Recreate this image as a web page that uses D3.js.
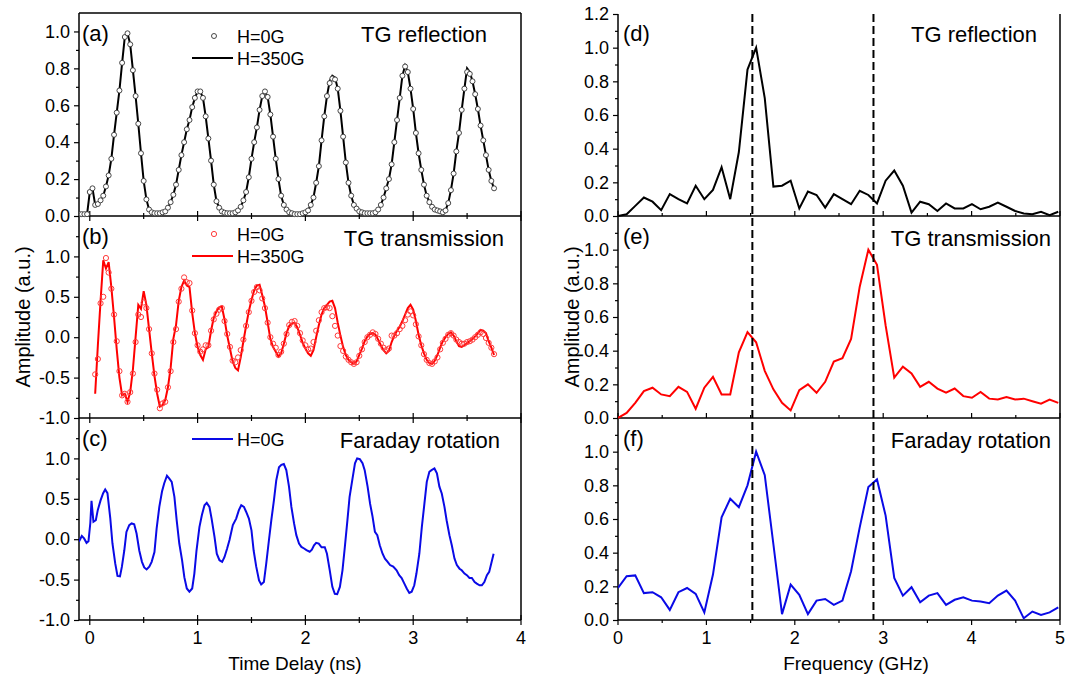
<!DOCTYPE html>
<html><head><meta charset="utf-8">
<script src="https://cdn.jsdelivr.net/npm/d3@7"></script>
<style>
body{margin:0;background:#fff}
svg{display:block}
text{font-family:"Liberation Sans",Arial,Helvetica,sans-serif;fill:#000}
</style>
</head><body>
<svg id="chart" width="1077" height="680"></svg>
<script>
// ---------------- DATA ----------------
const timeA_start = -0.1, timeA_step = 0.025;   // panel (a) sample grid
const timeB_start = 0.05, timeB_step = 0.025;   // panel (b) sample grid

// (a) TG reflection, H=0G (circles)
const reflection0G = [
 0.01,0.01,0.01,0.01,0.13,0.15,0.06,0.065,0.085,0.11,
 0.16,0.22,0.31,0.44,0.56,0.68,0.83,0.97,0.99,0.93,
 0.79,0.65,0.50,0.34,0.19,0.09,0.035,0.02,0.015,0.015,
 0.015,0.02,0.025,0.045,0.075,0.115,0.17,0.25,0.33,0.40,
 0.47,0.52,0.59,0.64,0.675,0.675,0.64,0.54,0.42,0.30,
 0.17,0.08,0.045,0.025,0.018,0.015,0.015,0.015,0.02,0.03,
 0.05,0.085,0.13,0.21,0.31,0.40,0.48,0.575,0.65,0.675,
 0.645,0.55,0.43,0.31,0.20,0.11,0.06,0.035,0.02,0.015,
 0.01,0.01,0.01,0.015,0.02,0.03,0.06,0.10,0.18,0.27,
 0.41,0.54,0.65,0.72,0.745,0.74,0.69,0.57,0.43,0.29,
 0.18,0.11,0.06,0.04,0.025,0.02,0.015,0.015,0.015,0.015,
 0.02,0.035,0.06,0.10,0.15,0.20,0.28,0.40,0.52,0.64,
 0.76,0.81,0.78,0.69,0.58,0.45,0.34,0.25,0.17,0.11,
 0.075,0.05,0.035,0.03,0.025,0.02,0.03,0.07,0.14,0.23,
 0.35,0.45,0.575,0.69,0.78,0.77,0.73,0.66,0.58,0.49,
 0.41,0.33,0.25,0.19,0.15];
// (a) TG reflection, H=350G (line)
const reflection350G = [
 0.01,0.01,0.01,0.01,0.13,0.15,0.06,0.065,0.085,0.11,
 0.16,0.22,0.31,0.44,0.56,0.68,0.83,0.97,0.99,0.93,
 0.79,0.65,0.50,0.34,0.19,0.09,0.035,0.02,0.015,0.015,
 0.015,0.02,0.025,0.045,0.075,0.115,0.17,0.25,0.33,0.40,
 0.47,0.52,0.59,0.64,0.675,0.675,0.64,0.54,0.42,0.30,
 0.17,0.08,0.045,0.025,0.018,0.015,0.015,0.015,0.02,0.03,
 0.05,0.085,0.13,0.21,0.31,0.40,0.48,0.575,0.65,0.675,
 0.645,0.55,0.43,0.31,0.20,0.11,0.06,0.035,0.02,0.015,
 0.01,0.01,0.01,0.015,0.02,0.03,0.06,0.10,0.18,0.27,
 0.41,0.54,0.65,0.73,0.76,0.75,0.69,0.57,0.43,0.29,
 0.18,0.11,0.06,0.04,0.025,0.02,0.015,0.015,0.015,0.015,
 0.02,0.035,0.06,0.10,0.15,0.20,0.28,0.40,0.52,0.64,
 0.76,0.815,0.78,0.69,0.58,0.45,0.34,0.25,0.17,0.11,
 0.075,0.05,0.035,0.03,0.025,0.02,0.03,0.07,0.14,0.23,
 0.35,0.45,0.575,0.69,0.80,0.78,0.73,0.66,0.58,0.49,
 0.41,0.33,0.25,0.19,0.15];

// (b) TG transmission, H=0G (circles)
const transmission0G = [
 -0.46,-0.27,0.42,0.50,0.98,0.80,0.60,0.28,-0.05,-0.42,
 -0.72,-0.70,-0.80,-0.68,-0.45,-0.06,0.28,0.25,0.43,0.36,
 0.10,-0.20,-0.45,-0.65,-0.88,-0.82,-0.80,-0.62,-0.42,-0.06,
 0.10,0.44,0.60,0.74,0.68,0.67,0.33,0.05,-0.10,-0.18,
 -0.15,-0.10,-0.10,0.08,0.22,0.29,0.34,0.36,0.20,0.04,
 -0.12,-0.29,-0.31,-0.25,-0.16,-0.03,0.14,0.31,0.45,0.56,
 0.62,0.58,0.48,0.36,0.18,0.00,-0.08,-0.13,-0.22,-0.18,
 -0.08,0.04,0.15,0.19,0.20,0.14,0.05,-0.04,-0.10,-0.15,
 -0.14,-0.06,0.08,0.21,0.31,0.36,0.37,0.36,0.26,0.14,
 0.02,-0.11,-0.17,-0.24,-0.28,-0.31,-0.33,-0.31,-0.23,-0.15,
 -0.06,0.00,0.03,0.06,0.04,-0.02,-0.08,-0.13,-0.16,-0.14,
 0.02,0.02,0.05,0.10,0.14,0.21,0.28,0.32,0.27,0.16,
 0.01,-0.10,-0.21,-0.28,-0.32,-0.33,-0.30,-0.25,-0.15,-0.07,
 -0.02,0.03,0.05,0.02,-0.03,-0.06,-0.08,-0.08,-0.06,-0.05,
 -0.03,0.00,0.03,0.06,0.04,-0.01,-0.07,-0.13,-0.21];
// (b) TG transmission, H=350G (line)
const transmission350G = [
 -0.70,-0.10,0.45,0.95,0.85,0.93,0.62,0.25,-0.15,-0.50,
 -0.72,-0.70,-0.80,-0.68,-0.40,0.00,0.40,0.35,0.57,0.40,
 0.10,-0.20,-0.48,-0.70,-0.86,-0.84,-0.78,-0.62,-0.38,-0.02,
 0.15,0.45,0.62,0.70,0.64,0.62,0.30,0.05,-0.12,-0.22,
 -0.28,-0.15,-0.12,0.08,0.24,0.32,0.37,0.38,0.22,0.02,
 -0.14,-0.30,-0.38,-0.41,-0.25,-0.05,0.14,0.32,0.46,0.58,
 0.64,0.65,0.52,0.38,0.18,-0.02,-0.12,-0.18,-0.24,-0.20,
 -0.08,0.05,0.14,0.17,0.18,0.12,0.03,-0.07,-0.14,-0.20,
 -0.23,-0.16,0.00,0.15,0.28,0.36,0.40,0.44,0.45,0.36,
 0.18,0.02,-0.12,-0.22,-0.28,-0.31,-0.33,-0.30,-0.22,-0.14,
 -0.05,0.01,0.04,0.05,0.03,-0.03,-0.10,-0.16,-0.20,-0.17,
 -0.06,0.02,0.08,0.13,0.20,0.28,0.36,0.40,0.34,0.20,
 0.03,-0.10,-0.20,-0.28,-0.32,-0.33,-0.29,-0.22,-0.13,-0.05,
 0.00,0.04,0.06,0.02,-0.05,-0.11,-0.12,-0.10,-0.07,-0.05,
 -0.02,0.01,0.05,0.09,0.08,0.05,-0.05,-0.13,-0.22];

// (c) Faraday rotation, H=0G (line): time (ns) and amplitude
const faradayTime = [
 -0.1,-0.074,-0.053,-0.03,-0.012,0.005,0.016,0.034,0.056,0.074,
 0.1,0.124,0.143,0.164,0.19,0.21,0.236,0.257,0.28,0.298,
 0.32,0.34,0.366,0.388,0.412,0.434,0.459,0.484,0.505,0.527,
 0.552,0.574,0.6,0.62,0.645,0.67,0.69,0.716,0.738,0.76,
 0.785,0.806,0.83,0.856,0.877,0.9,0.924,0.95,0.97,0.99,
 1.017,1.04,1.064,1.085,1.11,1.13,1.157,1.178,1.203,1.228,
 1.25,1.274,1.296,1.327,1.358,1.383,1.405,1.43,1.45,1.476,
 1.5,1.52,1.544,1.57,1.59,1.615,1.637,1.662,1.684,1.708,
 1.73,1.755,1.777,1.8,1.823,1.848,1.87,1.895,1.916,1.941,
 1.963,1.988,2.01,2.04,2.06,2.08,2.1,2.124,2.15,2.18,
 2.2,2.226,2.25,2.273,2.295,2.32,2.344,2.366,2.39,2.41,
 2.437,2.46,2.48,2.505,2.53,2.55,2.577,2.6,2.623,2.645,
 2.667,2.69,2.716,2.738,2.763,2.785,2.815,2.846,2.87,2.893,
 2.918,2.94,2.964,2.986,3.01,3.03,3.057,3.08,3.104,3.126,
 3.15,3.17,3.197,3.22,3.243,3.265,3.29,3.31,3.336,3.358,
 3.383,3.405,3.43,3.45,3.476,3.498,3.522,3.544,3.57,3.59,
 3.616,3.637,3.66,3.684,3.705,3.724,3.746];
const faradayValue = [
 -0.03,0.04,0.01,-0.045,-0.025,0.20,0.475,0.215,0.235,0.36,
 0.48,0.57,0.615,0.57,0.26,-0.05,-0.30,-0.455,-0.46,-0.34,
 -0.14,0.09,0.175,0.195,0.185,0.07,-0.14,-0.28,-0.35,-0.375,
 -0.34,-0.28,-0.16,0.13,0.40,0.59,0.69,0.785,0.75,0.71,
 0.525,0.235,-0.05,-0.26,-0.47,-0.61,-0.65,-0.61,-0.425,-0.14,
 0.15,0.30,0.42,0.45,0.40,0.255,0.03,-0.18,-0.26,-0.28,
 -0.22,-0.115,-0.01,0.175,0.255,0.36,0.42,0.40,0.34,0.255,
 0.11,-0.14,-0.34,-0.51,-0.56,-0.53,-0.30,-0.01,0.235,0.48,
 0.73,0.89,0.92,0.93,0.855,0.65,0.40,0.195,0.05,-0.055,
 -0.095,-0.115,-0.135,-0.155,-0.13,-0.075,-0.045,-0.055,-0.10,-0.10,
 -0.18,-0.385,-0.59,-0.675,-0.68,-0.59,-0.385,-0.095,0.235,0.525,
 0.75,0.94,1.0,0.99,0.94,0.855,0.65,0.44,0.28,0.09,
 0.05,-0.075,-0.18,-0.24,-0.28,-0.32,-0.34,-0.385,-0.445,-0.48,
 -0.55,-0.61,-0.665,-0.65,-0.57,-0.425,-0.18,0.15,0.44,0.71,
 0.835,0.855,0.875,0.815,0.65,0.565,0.40,0.235,0.05,-0.075,
 -0.24,-0.32,-0.365,-0.385,-0.425,-0.445,-0.48,-0.48,-0.53,-0.55,
 -0.57,-0.57,-0.53,-0.445,-0.405,-0.30,-0.18];

// Right column: FFT spectra, uniform frequency grid (GHz)
const freqStep = 0.09765625;
const reflectionFFT = [
 0.0,0.01,0.06,0.11,0.085,0.035,0.13,0.10,0.075,0.18,
 0.10,0.155,0.29,0.10,0.38,0.87,1.0,0.70,0.175,0.18,
 0.21,0.045,0.145,0.125,0.05,0.13,0.10,0.07,0.15,0.125,
 0.075,0.21,0.27,0.18,0.02,0.085,0.07,0.03,0.075,0.045,
 0.045,0.07,0.04,0.055,0.08,0.055,0.03,0.015,0.01,0.025,
 0.005,0.025];
const transmissionFFT = [
 0.0,0.03,0.09,0.16,0.18,0.14,0.13,0.185,0.155,0.055,
 0.18,0.245,0.14,0.14,0.39,0.51,0.45,0.28,0.17,0.09,
 0.045,0.165,0.20,0.15,0.215,0.335,0.355,0.47,0.78,1.0,
 0.91,0.55,0.24,0.305,0.265,0.185,0.215,0.175,0.15,0.175,
 0.13,0.12,0.155,0.115,0.11,0.125,0.11,0.115,0.10,0.085,
 0.11,0.09];
const faradayFFT = [
 0.19,0.26,0.265,0.16,0.165,0.135,0.06,0.165,0.19,0.155,
 0.045,0.27,0.61,0.72,0.67,0.80,1.0,0.86,0.45,0.035,
 0.21,0.15,0.035,0.115,0.125,0.09,0.115,0.29,0.55,0.79,
 0.835,0.62,0.25,0.145,0.195,0.105,0.145,0.16,0.09,0.12,
 0.135,0.115,0.11,0.10,0.145,0.175,0.115,0.01,0.05,0.03,
 0.045,0.075];
const markerFreqs = [1.52, 2.89];

// Tick values and labels
const timeTicks = [0, 1, 2, 3, 4];
const timeMinorTicks = [0.5, 1.5, 2.5, 3.5];
const freqTicks = [0, 1, 2, 3, 4, 5];
const freqMinorTicks = [0.5, 1.5, 2.5, 3.5, 4.5];
const yTicksA = [0, 0.2, 0.4, 0.6, 0.8, 1.0];
const yMinorA = [0.1, 0.3, 0.5, 0.7, 0.9];
const yTicksBC = [-1.0, -0.5, 0, 0.5, 1.0];
const yMinorBC = [-0.75, -0.25, 0.25, 0.75, 1.25];
const yTicksD = [0, 0.2, 0.4, 0.6, 0.8, 1.0, 1.2];
const yTicksEF = [0, 0.2, 0.4, 0.6, 0.8, 1.0];
const yMinorDEF = [0.1, 0.3, 0.5, 0.7, 0.9, 1.1];
const panelLetters = ["(a)", "(b)", "(c)", "(d)", "(e)", "(f)"];
const panelTitles = ["TG reflection", "TG transmission", "Faraday rotation",
                     "TG reflection", "TG transmission", "Faraday rotation"];
const legendLabels = ["H=0G", "H=350G"];
const xTitles = ["Time Delay (ns)", "Frequency (GHz)"];
const yTitle = "Amplitude (a.u.)";

// ---------------- LAYOUT ----------------
const svg = d3.select("#chart");
const LX0 = 79, LX1 = 521, RX0 = 618, RX1 = 1060;
const rows = [{top: 13, bot: 216}, {top: 216, bot: 418}, {top: 418, bot: 620}];
const RED = "#ff0000", BLUE = "#0a0ae6", BLK = "#000";
const TICK_FS = 18;
const fmt = d => d.toFixed(1);

const xTime = d3.scaleLinear().domain([-0.1, 4]).range([LX0, LX1]);
const xFreq = d3.scaleLinear().domain([0, 5]).range([RX0, RX1]);
const yA = d3.scaleLinear().domain([0, 1.1]).range([rows[0].bot, rows[0].top]);
const yB = d3.scaleLinear().domain([-1, 1.5]).range([rows[1].bot, rows[1].top]);
const yC = d3.scaleLinear().domain([-1, 1.5]).range([rows[2].bot, rows[2].top]);
const yD = d3.scaleLinear().domain([0, 1.2]).range([rows[0].bot, rows[0].top + 1]);
const yE = d3.scaleLinear().domain([0, 1.2]).range([rows[1].bot, rows[1].top]);
const yF = d3.scaleLinear().domain([0, 1.2]).range([rows[2].bot, rows[2].top]);

const tA = i => timeA_start + i * timeA_step;
const tB = i => timeB_start + i * timeB_step;
const fK = i => i * freqStep;

const defs = svg.append("defs");
defs.append("clipPath").attr("id", "clipL").append("rect")
  .attr("x", LX0).attr("y", rows[0].top).attr("width", LX1 - LX0).attr("height", rows[2].bot - rows[0].top);
defs.append("clipPath").attr("id", "clipR").append("rect")
  .attr("x", RX0).attr("y", rows[0].top).attr("width", RX1 - RX0).attr("height", rows[2].bot - rows[0].top);

function yAxis(x, scale, major, minor) {
  const g1 = svg.append("g").attr("transform", `translate(${x},0)`)
    .call(d3.axisLeft(scale).tickValues(major).tickSize(5).tickPadding(4).tickFormat(fmt));
  g1.select(".domain").remove();
  g1.attr("font-family", null).attr("font-size", null);
  g1.selectAll("text").attr("font-size", TICK_FS).attr("fill", "#000");
  g1.selectAll("line").attr("stroke", "#000").attr("stroke-width", 1.2);
  const g2 = svg.append("g").attr("transform", `translate(${x},0)`)
    .call(d3.axisLeft(scale).tickValues(minor).tickSize(3).tickFormat(""));
  g2.select(".domain").remove();
  g2.selectAll("line").attr("stroke", "#000").attr("stroke-width", 1.2);
}
function xTickMarks(scale, ypos, vals, up, down) {
  svg.append("g").selectAll("line").data(vals).join("line")
    .attr("x1", d => scale(d)).attr("x2", d => scale(d))
    .attr("y1", ypos - up).attr("y2", ypos + down)
    .attr("stroke", "#000").attr("stroke-width", 1.2);
}
function xLabels(scale, ypos, vals) {
  svg.append("g").selectAll("text").data(vals).join("text")
    .attr("x", d => scale(d)).attr("y", ypos)
    .attr("text-anchor", "middle").attr("font-size", TICK_FS).text(d => d);
}
function hline(x0, x1, y, w, col) {
  svg.append("line").attr("x1", x0).attr("x2", x1).attr("y1", y).attr("y2", y)
    .attr("stroke", col || "#000").attr("stroke-width", w || 1.5);
}
function vline(x, y0, y1, w) {
  svg.append("line").attr("x1", x).attr("x2", x).attr("y1", y0).attr("y2", y1)
    .attr("stroke", "#000").attr("stroke-width", w || 1.5);
}

// ---------------- LEFT COLUMN ----------------
vline(LX0, rows[0].top, rows[2].bot);
vline(LX1, rows[0].top, rows[2].bot);
hline(LX0, LX1, rows[0].top);
rows.forEach(r => hline(LX0, LX1, r.bot));
yAxis(LX0, yA, yTicksA, yMinorA);
yAxis(LX0, yB, yTicksBC, yMinorBC);
yAxis(LX0, yC, yTicksBC, yMinorBC);
rows.forEach(r => {
  xTickMarks(xTime, r.bot, timeTicks, 5, 5);
  xTickMarks(xTime, r.bot, timeMinorTicks, 3, 3);
});
xLabels(xTime, 644, timeTicks);

const gL = svg.append("g").attr("clip-path", "url(#clipL)");
gL.append("path").datum(reflection350G)
  .attr("d", d3.line().x((d, i) => xTime(tA(i))).y(d => yA(d)))
  .attr("fill", "none").attr("stroke", BLK).attr("stroke-width", 2);
gL.append("g").selectAll("circle").data(reflection0G).join("circle")
  .attr("cx", (d, i) => xTime(tA(i))).attr("cy", d => yA(d)).attr("r", 2.5)
  .attr("fill", "#fff").attr("stroke", "#333").attr("stroke-width", 0.9);
gL.append("path").datum(transmission350G)
  .attr("d", d3.line().x((d, i) => xTime(tB(i))).y(d => yB(d)))
  .attr("fill", "none").attr("stroke", RED).attr("stroke-width", 2);
gL.append("g").selectAll("circle").data(transmission0G).join("circle")
  .attr("cx", (d, i) => xTime(tB(i))).attr("cy", d => yB(d)).attr("r", 2.6)
  .attr("fill", "none").attr("stroke", "#ff3a3a").attr("stroke-width", 1);
gL.append("path").datum(d3.zip(faradayTime, faradayValue))
  .attr("d", d3.line().x(d => xTime(d[0])).y(d => yC(d[1])))
  .attr("fill", "none").attr("stroke", BLUE).attr("stroke-width", 2);

// ---------------- RIGHT COLUMN ----------------
vline(RX0, rows[0].top + 1, rows[2].bot);
vline(RX1, rows[0].top + 1, rows[2].bot);
rows.forEach(r => hline(RX0, RX1, r.bot));
yAxis(RX0, yD, yTicksD, yMinorDEF);
yAxis(RX0, yE, yTicksEF, yMinorDEF);
yAxis(RX0, yF, yTicksEF, yMinorDEF);
rows.forEach((r, i) => {
  if (i < 2) {
    xTickMarks(xFreq, r.bot, freqTicks, 5, 0);
    xTickMarks(xFreq, r.bot, freqMinorTicks, 3, 0);
  } else {
    xTickMarks(xFreq, r.bot, freqTicks, 0, 5);
    xTickMarks(xFreq, r.bot, freqMinorTicks, 0, 3);
  }
});
xLabels(xFreq, 644, freqTicks);

const gR = svg.append("g").attr("clip-path", "url(#clipR)");
[[reflectionFFT, yD, BLK], [transmissionFFT, yE, RED], [faradayFFT, yF, BLUE]].forEach(([arr, ys, col]) => {
  gR.append("path").datum(arr)
    .attr("d", d3.line().x((d, i) => xFreq(fK(i))).y(d => ys(d)))
    .attr("fill", "none").attr("stroke", col).attr("stroke-width", 2);
});
svg.append("g").selectAll("line").data(markerFreqs).join("line")
  .attr("x1", d => xFreq(d)).attr("x2", d => xFreq(d))
  .attr("y1", rows[0].top + 1).attr("y2", rows[2].bot)
  .attr("stroke", "#000").attr("stroke-width", 2).attr("stroke-dasharray", "8,4");

// ---------------- TEXT ----------------
const letterX = [82, 82, 82, 623, 623, 623];
const letterY = [41, 244, 446, 41, 244, 446];
panelLetters.forEach((t, i) => {
  svg.append("text").attr("x", letterX[i]).attr("y", letterY[i]).attr("font-size", 22).text(t);
});
const titleX = [487, 504, 500, 1037, 1051, 1051];
const titleY = [42, 246, 448, 42, 246, 448];
panelTitles.forEach((t, i) => {
  svg.append("text").attr("x", titleX[i]).attr("y", titleY[i]).attr("text-anchor", "end")
    .attr("font-size", 22).text(t);
});

const legX0 = 192, legX1 = 233, legText = 237;
svg.append("circle").attr("cx", 214).attr("cy", 36).attr("r", 2.5)
  .attr("fill", "#fff").attr("stroke", "#333").attr("stroke-width", 0.9);
svg.append("text").attr("x", legText).attr("y", 43).attr("font-size", 18).text(legendLabels[0]);
hline(legX0, legX1, 58, 2);
svg.append("text").attr("x", legText).attr("y", 65).attr("font-size", 18).text(legendLabels[1]);
svg.append("circle").attr("cx", 214).attr("cy", 234).attr("r", 2.6)
  .attr("fill", "none").attr("stroke", "#ff3a3a").attr("stroke-width", 1);
svg.append("text").attr("x", legText).attr("y", 241).attr("font-size", 18).text(legendLabels[0]);
hline(legX0, legX1, 256, 2, RED);
svg.append("text").attr("x", legText).attr("y", 263).attr("font-size", 18).text(legendLabels[1]);
hline(legX0, legX1, 439, 2, BLUE);
svg.append("text").attr("x", legText).attr("y", 446).attr("font-size", 18).text(legendLabels[0]);

svg.append("text").attr("x", 295).attr("y", 670).attr("text-anchor", "middle").attr("font-size", 19).text(xTitles[0]);
svg.append("text").attr("x", 856).attr("y", 670).attr("text-anchor", "middle").attr("font-size", 19).text(xTitles[1]);
svg.append("text").attr("transform", "translate(30,317) rotate(-90)").attr("text-anchor", "middle")
  .attr("font-size", 20).text(yTitle);
svg.append("text").attr("transform", "translate(579,317) rotate(-90)").attr("text-anchor", "middle")
  .attr("font-size", 20).text(yTitle);
</script>
</body></html>
